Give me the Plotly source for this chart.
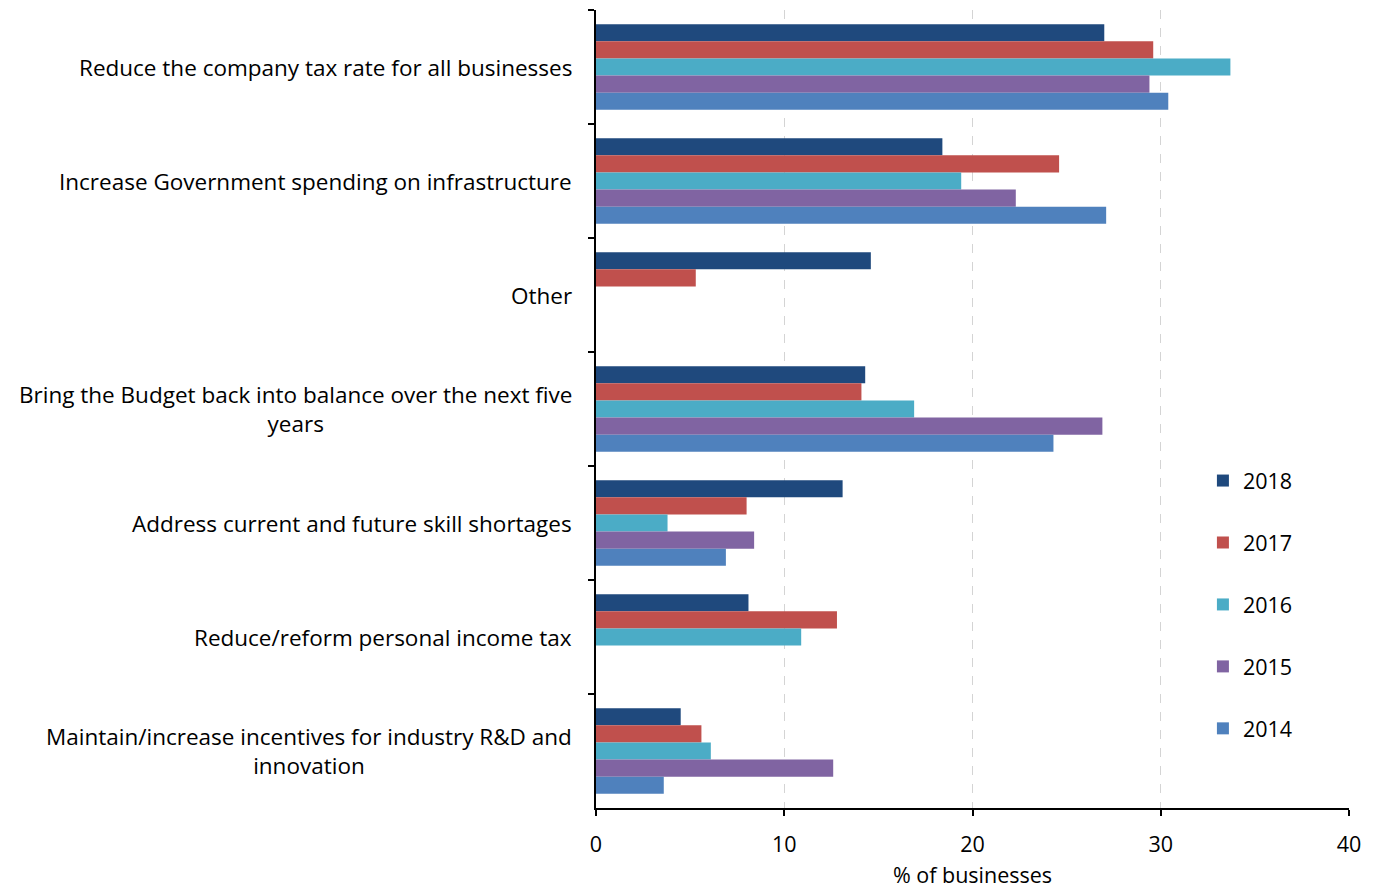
import plotly.graph_objects as go

# Survey priorities, listed top to bottom
categories = [
    "Reduce the company tax rate for all businesses",
    "Increase Government spending on infrastructure",
    "Other",
    "Bring the Budget back into balance over the next five<br>years",
    "Address current and future skill shortages",
    "Reduce/reform personal income tax",
    "Maintain/increase incentives for industry R&D and<br>innovation",
]

years = ["2018", "2017", "2016", "2015", "2014"]

v2018 = [27.0, 18.4, 14.6, 14.3, 13.1, 8.1, 4.5]
v2017 = [29.6, 24.6, 5.3, 14.1, 8.0, 12.8, 5.6]
v2016 = [33.7, 19.4, None, 16.9, 3.8, 10.9, 6.1]
v2015 = [29.4, 22.3, None, 26.9, 8.4, None, 12.6]
v2014 = [30.4, 27.1, None, 24.3, 6.9, None, 3.6]

series = [v2018, v2017, v2016, v2015, v2014]
colors = ["#1F497D", "#C0504D", "#4BACC6", "#8064A2", "#4F81BD"]

x_ticks = [0, 10, 20, 30, 40]

FONT = "Open Sans"
LABEL_SIZE = 22.5

fig = go.Figure()
for year, vals, col in zip(years, series, colors):
    fig.add_trace(go.Bar(
        y=categories, x=vals, name=year, orientation="h",
        marker=dict(color=col, line=dict(width=0)),
        legendgroup=year,
    ))

# Category labels, wrapped lines centred on each other
for cat in categories:
    fig.add_annotation(
        x=0, xref="paper", y=cat, yref="y",
        text=cat, showarrow=False, xanchor="right",
        yanchor="middle", align="center", xshift=-22,
        font=dict(family=FONT, size=LABEL_SIZE, color="#000000"),
    )

fig.update_layout(
    width=1380, height=889,
    margin=dict(l=596, r=31, t=10, b=81),
    paper_bgcolor="white", plot_bgcolor="white",
    barmode="group", bargap=0.25, bargroupgap=0,
    font=dict(family=FONT, size=21, color="#000000"),
    showlegend=True,
    legend=dict(
        x=0.806, xanchor="left", y=0.436, yanchor="top",
        traceorder="grouped", tracegroupgap=31,
        font=dict(family=FONT, size=21.5),
        itemwidth=30,
        bgcolor="rgba(0,0,0,0)",
    ),
    xaxis=dict(
        range=[0, 40], tickvals=x_ticks, ticktext=[str(t) for t in x_ticks],
        showgrid=True, gridcolor="#D4D4D4", griddash="dash", gridwidth=1.2,
        zeroline=False, automargin=False,
        showline=True, linecolor="#000000", linewidth=1.5,
        ticks="outside", ticklen=6, tickcolor="#000000", tickwidth=1.5,
        ticklabelstandoff=10,
        tickfont=dict(family=FONT, size=21.5),
        title=dict(text="% of businesses", font=dict(family=FONT, size=21.5), standoff=14),
    ),
    yaxis=dict(
        autorange="reversed", automargin=False,
        showticklabels=False,
        showline=True, linecolor="#000000", linewidth=1.5,
        ticks="outside", ticklen=6, tickcolor="#000000", tickwidth=1.5,
        tickson="boundaries",
        showgrid=False,
    ),
)

fig.write_html("out.html")
